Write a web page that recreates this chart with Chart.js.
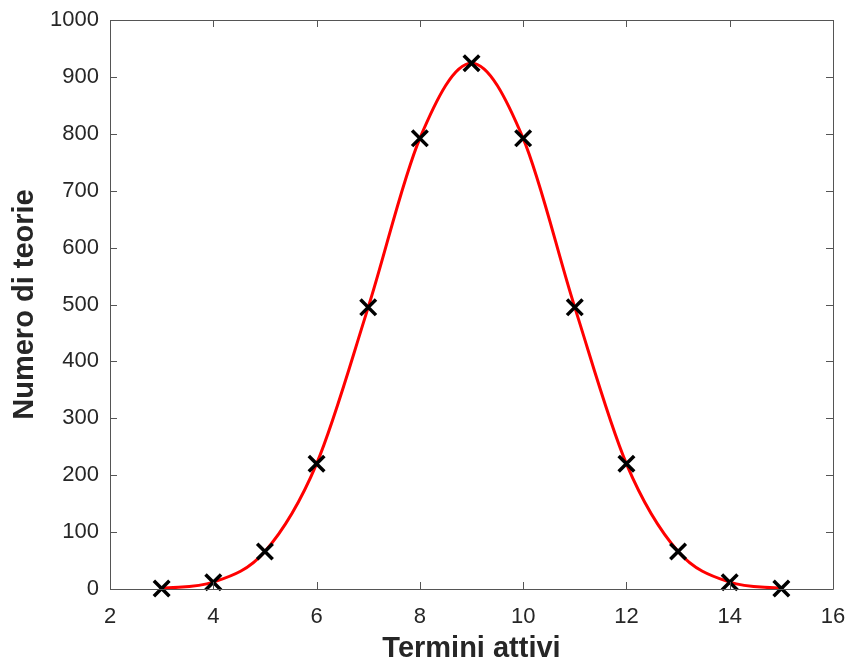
<!DOCTYPE html>
<html>
<head>
<meta charset="utf-8">
<script src="https://cdn.jsdelivr.net/npm/chart.js@4/dist/chart.umd.min.js"></script>
<style>
  html, body { margin: 0; padding: 0; background: #fff; }
  #chart { display: block; }
</style>
</head>
<body>
<canvas id="chart" width="848" height="664"></canvas>
<script>
// Data
const terms = [3, 4, 5, 6, 7, 8, 9, 10, 11, 12, 13, 14, 15];
const theories = [1, 12, 66, 220, 495, 792, 924, 792, 495, 220, 66, 12, 1];
const xTicks = [2, 4, 6, 8, 10, 12, 14, 16];
const yTicks = [0, 100, 200, 300, 400, 500, 600, 700, 800, 900, 1000];

const AXIS_COLOR = '#555';
const TEXT_COLOR = '#262626';
const TICK_LEN = 7;
const FONT = '"Liberation Sans", Arial, sans-serif';

const points = terms.map((x, i) => ({ x: x, y: theories[i] }));

// MATLAB-style box with inward ticks on all four sides
const boxTicks = {
    id: 'boxTicks',
    afterDraw(chart) {
        const { ctx, chartArea: a, scales } = chart;
        ctx.save();
        ctx.strokeStyle = AXIS_COLOR;
        ctx.lineWidth = 1;
        ctx.beginPath();
        ctx.rect(Math.round(a.left) + 0.5, Math.round(a.top) + 0.5,
                 Math.round(a.right - a.left), Math.round(a.bottom - a.top));
        scales.x.ticks.forEach(t => {
            const px = Math.round(scales.x.getPixelForValue(t.value)) + 0.5;
            ctx.moveTo(px, a.bottom); ctx.lineTo(px, a.bottom - TICK_LEN);
            ctx.moveTo(px, a.top); ctx.lineTo(px, a.top + TICK_LEN);
        });
        scales.y.ticks.forEach(t => {
            const py = Math.round(scales.y.getPixelForValue(t.value)) + 0.5;
            ctx.moveTo(a.left, py); ctx.lineTo(a.left + TICK_LEN, py);
            ctx.moveTo(a.right, py); ctx.lineTo(a.right - TICK_LEN, py);
        });
        ctx.stroke();
        ctx.restore();
    }
};

new Chart(document.getElementById('chart').getContext('2d'), {
    type: 'scatter',
    data: {
        datasets: [
            {
                label: 'punti',
                data: points,
                showLine: false,
                pointStyle: 'crossRot',
                pointRadius: 11,
                pointBorderWidth: 3.5,
                borderColor: '#000',
                backgroundColor: '#000',
                clip: false,
                order: 0
            },
            {
                label: 'curva',
                data: points,
                showLine: true,
                borderColor: '#ff0000',
                borderWidth: 3,
                pointRadius: 0,
                cubicInterpolationMode: 'monotone',
                fill: false,
                order: 1
            }
        ]
    },
    options: {
        responsive: false,
        animation: false,
        devicePixelRatio: 1,
        layout: { padding: { left: 0, top: 20, right: 15, bottom: 0 } },
        plugins: {
            legend: { display: false },
            tooltip: { enabled: false }
        },
        scales: {
            x: {
                type: 'linear',
                min: 2,
                max: 16,
                afterBuildTicks: s => { s.ticks = xTicks.map(v => ({ value: v })); },
                afterFit: s => { s.height = 75; s.paddingLeft = 0; s.paddingRight = 0; },
                grid: { display: false, drawTicks: false },
                border: { display: false },
                ticks: {
                    color: TEXT_COLOR,
                    padding: 15,
                    maxRotation: 0,
                    callback: v => String(v),
                    font: { family: FONT, size: 22 }
                },
                title: {
                    display: true,
                    text: 'Termini attivi',
                    color: TEXT_COLOR,
                    padding: { top: 0, bottom: 1 },
                    font: { family: FONT, size: 29, weight: 'bold', lineHeight: 1 }
                }
            },
            y: {
                type: 'linear',
                min: 0,
                max: 1000,
                afterBuildTicks: s => { s.ticks = yTicks.map(v => ({ value: v })); },
                afterFit: s => { s.width = 110; s.paddingTop = 0; s.paddingBottom = 0; },
                grid: { display: false, drawTicks: false },
                border: { display: false },
                ticks: {
                    color: TEXT_COLOR,
                    padding: 11,
                    callback: v => String(v),
                    font: { family: FONT, size: 22 }
                },
                title: {
                    display: true,
                    text: 'Numero di teorie',
                    color: TEXT_COLOR,
                    padding: { top: 10, bottom: 0 },
                    font: { family: FONT, size: 29, weight: 'bold', lineHeight: 1 }
                }
            }
        }
    },
    plugins: [boxTicks]
});
</script>
</body>
</html>
